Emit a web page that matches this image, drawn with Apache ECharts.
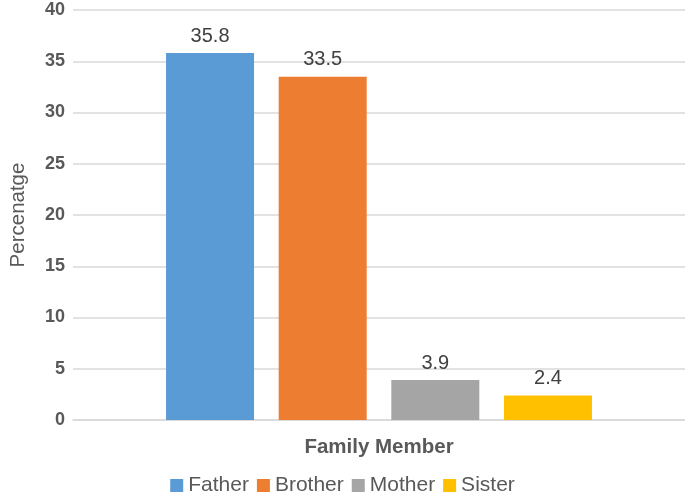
<!DOCTYPE html>
<html><head><meta charset="utf-8">
<script src="https://cdn.jsdelivr.net/npm/echarts@6/dist/echarts.min.js"></script>
<style>html,body{margin:0;padding:0;background:#fff;overflow:hidden}#c{width:685px;height:502px}</style>
</head><body><div id="c"></div>
<script>
const categories = [''];
const seriesNames = ['Father', 'Brother', 'Mother', 'Sister'];
const seriesValues = [[35.8], [33.5], [3.9], [2.4]];
const colors = ['#5b9bd5', '#ed7d31', '#a5a5a5', '#ffc000'];
const yTicks = [0, 5, 10, 15, 20, 25, 30, 35, 40];

const chart = echarts.init(document.getElementById('c'));
const font = 'Liberation Sans, Arial, Helvetica, sans-serif';
chart.setOption({
  animation: false,
  textStyle: { fontFamily: font },
  grid: { left: 65, right: 0, top: 10, bottom: 82 },
  legend: {
    bottom: 1, left: 'center',
    itemWidth: 13, itemHeight: 13, itemGap: 8,
    icon: 'rect',
    textStyle: { fontSize: 21, color: '#595959', fontFamily: font },
    data: seriesNames
  },
  xAxis: {
    type: 'category', data: categories,
    name: 'Family Member', nameLocation: 'middle', nameGap: 17,
    nameTextStyle: { fontSize: 20.5, fontWeight: 'bold', color: '#595959', fontFamily: font },
    axisLine: { lineStyle: { color: '#d9d9d9', width: 1.5 } },
    axisTick: { show: false }, axisLabel: { show: false }
  },
  yAxis: {
    type: 'value', min: yTicks[0], max: yTicks[yTicks.length - 1], interval: 5,
    name: 'Percenatge', nameLocation: 'middle', nameGap: 44,
    nameTextStyle: { fontSize: 20.5, color: '#595959', fontFamily: font },
    axisLine: { show: false }, axisTick: { show: false },
    axisLabel: { fontSize: 18, fontWeight: 'bold', color: '#595959', margin: 8, fontFamily: font },
    splitLine: { lineStyle: { color: '#d9d9d9', width: 1.5 } }
  },
  series: seriesNames.map((n, i) => ({
    name: n, type: 'bar', data: seriesValues[i],
    barWidth: 88, barGap: '28%',
    itemStyle: { color: colors[i] },
    label: { show: true, position: 'top', distance: 7, fontSize: 20, color: '#404040', fontFamily: font }
  }))
});
</script></body></html>
